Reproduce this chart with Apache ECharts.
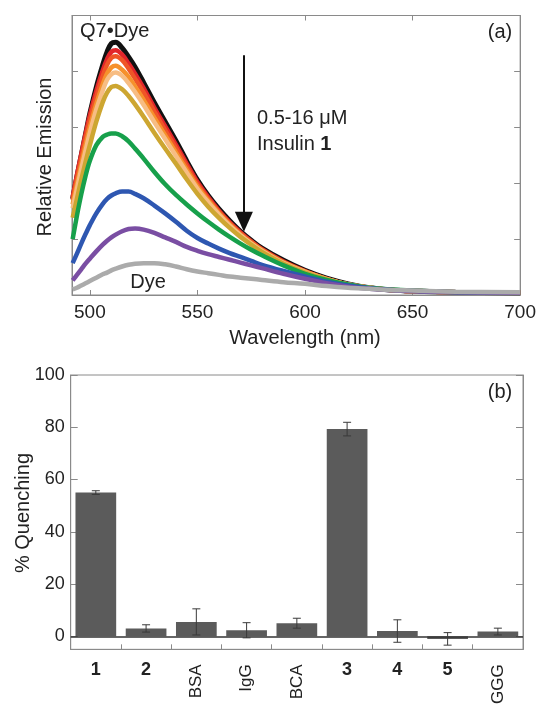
<!DOCTYPE html>
<html>
<head>
<meta charset="utf-8">
<script src="https://cdn.jsdelivr.net/npm/echarts@6.0.0/dist/echarts.min.js"></script>
<style>
html,body{margin:0;padding:0;background:#fff;}
#chart{width:539px;height:707px;}
</style>
</head>
<body>
<div id="chart"></div>
<script>
// ---------- Panel (a): emission spectra ----------
const wavelengths = [492,494,496,498,500,503,506,508,510,512,515,518,521,525,530,535,540,545,550,555,560,565,570,575,580,590,600,610,620,630,640,650,670,700];
const q7Dye      = [1.72,2.12,2.50,2.88,3.25,3.72,4.12,4.35,4.50,4.52,4.42,4.26,4.08,3.80,3.44,3.10,2.76,2.40,2.06,1.78,1.54,1.33,1.14,0.98,0.84,0.62,0.44,0.30,0.20,0.13,0.09,0.07,0.05,0.04];
const insulinA   = [1.75,2.15,2.52,2.88,3.22,3.65,4.02,4.22,4.35,4.38,4.30,4.14,3.96,3.70,3.35,3.02,2.69,2.35,2.02,1.75,1.51,1.30,1.12,0.96,0.82,0.60,0.43,0.29,0.19,0.13,0.09,0.07,0.05,0.04];
const insulinB   = [1.70,2.08,2.44,2.80,3.13,3.55,3.92,4.12,4.24,4.27,4.20,4.05,3.87,3.62,3.28,2.95,2.63,2.30,1.98,1.72,1.49,1.28,1.10,0.95,0.81,0.59,0.42,0.29,0.19,0.13,0.09,0.07,0.05,0.04];
const insulinC   = [1.62,1.98,2.33,2.68,3.00,3.42,3.77,3.96,4.07,4.10,4.03,3.90,3.73,3.49,3.17,2.86,2.55,2.24,1.94,1.69,1.46,1.26,1.08,0.93,0.80,0.58,0.42,0.29,0.19,0.13,0.09,0.07,0.05,0.04];
const insulinD   = [1.55,1.90,2.25,2.58,2.90,3.32,3.66,3.85,3.95,3.98,3.92,3.79,3.63,3.40,3.09,2.79,2.49,2.19,1.90,1.66,1.44,1.24,1.07,0.92,0.79,0.57,0.41,0.28,0.19,0.13,0.09,0.07,0.05,0.04];
const insulinE   = [1.38,1.72,2.06,2.38,2.68,3.10,3.45,3.62,3.72,3.74,3.68,3.56,3.41,3.19,2.90,2.62,2.35,2.07,1.81,1.58,1.38,1.20,1.04,0.90,0.77,0.56,0.40,0.28,0.18,0.12,0.09,0.07,0.05,0.04];
const insulinF   = [1.00,1.42,1.80,2.13,2.40,2.68,2.83,2.87,2.89,2.89,2.84,2.75,2.62,2.44,2.20,1.98,1.79,1.62,1.46,1.31,1.17,1.04,0.92,0.81,0.71,0.53,0.38,0.27,0.19,0.13,0.10,0.08,0.05,0.04];
const insulinG   = [0.57,0.74,0.92,1.09,1.25,1.46,1.63,1.72,1.78,1.82,1.85,1.85,1.81,1.73,1.60,1.46,1.31,1.15,1.02,0.92,0.83,0.75,0.68,0.61,0.54,0.43,0.33,0.24,0.17,0.12,0.09,0.07,0.05,0.04];
const insulinH   = [0.26,0.36,0.46,0.56,0.65,0.78,0.90,0.97,1.03,1.08,1.14,1.18,1.19,1.17,1.11,1.03,0.95,0.86,0.79,0.73,0.68,0.63,0.58,0.53,0.48,0.38,0.29,0.21,0.15,0.11,0.09,0.07,0.05,0.04];
const dyeOnly    = [0.10,0.13,0.17,0.21,0.25,0.31,0.37,0.40,0.44,0.47,0.51,0.54,0.56,0.57,0.57,0.55,0.51,0.46,0.42,0.39,0.36,0.33,0.31,0.29,0.27,0.23,0.20,0.16,0.13,0.11,0.09,0.08,0.06,0.05];
const spectraSeries = [q7Dye, insulinA, insulinB, insulinC, insulinD, insulinE, insulinF, insulinG, insulinH, dyeOnly];
const spectraColors = ['#111111','#e2262b','#ef5527','#f6912c','#f7bd83','#cda631','#17a04b','#2e57b1','#7a4ea3','#ababab'];
const wavelengthTicks = [500,550,600,650,700];
const arrowFrom = [571.6, 4.29];
const arrowTo = [571.6, 1.31];

// ---------- Panel (b): % quenching ----------
const categories = ['1','2','BSA','IgG','BCA','3','4','5','GGG'];
const quenching  = [55.0, 3.0, 5.5, 2.3, 5.0, 79.3, 2.0, -1.0, 1.8];
const quenchErr  = [0.7, 1.4, 5.0, 2.9, 1.9, 2.6, 4.3, 2.4, 1.3];
const quenchTicks = [0,20,40,60,80,100];

const FONT = '"Liberation Sans", Arial, sans-serif';
const TXT = '#222';
const FRAME = '#8a8a8a';

const chart = echarts.init(document.getElementById('chart'), null, {renderer:'canvas'});

const lineSeries = spectraSeries.map((vals, i) => ({
  type: 'line',
  xAxisIndex: 0, yAxisIndex: 0,
  data: wavelengths.map((w, j) => [w, vals[j]]),
  smooth: 0.35,
  showSymbol: false,
  symbol: 'none',
  silent: true,
  z: 2 + i,
  lineStyle: {color: spectraColors[i], width: i === 0 ? 5 : 4.5},
  animation: false
}));

// arrow annotation
lineSeries.push({
  type: 'line', xAxisIndex: 0, yAxisIndex: 0, data: [], silent: true, animation: false,
  markLine: {
    silent: true,
    symbol: ['none', 'triangle'],
    symbolSize: [18, 20],
    label: {show: false},
    lineStyle: {color: '#111', width: 2, type: 'solid'},
    data: [[{coord: arrowFrom}, {coord: arrowTo}]]
  }
});

const errorData = quenching.map((v, i) => [i, v - quenchErr[i], v + quenchErr[i]]);

const option = {
  animation: false,
  backgroundColor: '#fff',
  textStyle: {fontFamily: FONT},
  grid: [
    {left: 72, right: 16, top: 15.5, height: 279.5, show: true, borderColor: FRAME, borderWidth: 1, backgroundColor: 'transparent'},
    {left: 70.7, right: 16, top: 375, height: 280, show: true, borderColor: FRAME, borderWidth: 1, backgroundColor: 'transparent'}
  ],
  xAxis: [
    {
      gridIndex: 0, type: 'value', min: 491.7, max: 700, position: 'bottom',
      axisLine: {show: true, onZero: false, lineStyle: {color: FRAME}},
      axisTick: {show: true, inside: true, length: 5, customValues: wavelengthTicks, lineStyle: {color: FRAME}},
      axisLabel: {show: true, customValues: wavelengthTicks, fontSize: 19, color: TXT, margin: 8, fontFamily: FONT},
      splitLine: {show: false}
    },
    {
      gridIndex: 0, type: 'value', min: 491.7, max: 700, position: 'top',
      axisLine: {show: true, onZero: false, lineStyle: {color: FRAME}},
      axisTick: {show: true, inside: true, length: 5, customValues: wavelengthTicks, lineStyle: {color: FRAME}},
      axisLabel: {show: false},
      splitLine: {show: false}
    },
    {
      gridIndex: 1, type: 'category', data: categories, position: 'bottom',
      axisLine: {show: true, onZero: false, lineStyle: {color: FRAME}},
      axisTick: {show: true, inside: true, length: 5, lineStyle: {color: FRAME}},
      axisLabel: {
        interval: 0, fontSize: 18, fontWeight: 'bold', color: TXT, margin: 12, fontFamily: FONT,
        formatter: v => (/^\d+$/.test(v) ? v : '')
      },
      splitLine: {show: false}
    },
    {
      gridIndex: 1, type: 'category', data: categories, position: 'bottom',
      axisLine: {show: false}, axisTick: {show: false},
      axisLabel: {
        interval: 0, rotate: 90, fontSize: 17, color: TXT, margin: 15, fontFamily: FONT,
        formatter: v => (/^\d+$/.test(v) ? '' : v)
      },
      splitLine: {show: false}
    }
  ],
  yAxis: [
    {
      gridIndex: 0, type: 'value', min: 0, max: 5, interval: 1, position: 'left',
      axisLine: {show: true, onZero: false, lineStyle: {color: FRAME}},
      axisTick: {show: true, inside: true, length: 6, lineStyle: {color: FRAME}},
      axisLabel: {show: false}, splitLine: {show: false}
    },
    {
      gridIndex: 0, type: 'value', min: 0, max: 5, interval: 1, position: 'right',
      axisLine: {show: true, onZero: false, lineStyle: {color: FRAME}},
      axisTick: {show: true, inside: true, length: 6, lineStyle: {color: FRAME}},
      axisLabel: {show: false}, splitLine: {show: false}
    },
    {
      gridIndex: 1, type: 'value', min: -5, max: 100, position: 'left',
      axisLine: {show: true, onZero: false, lineStyle: {color: FRAME}},
      axisTick: {show: true, inside: true, length: 7, customValues: quenchTicks, lineStyle: {color: FRAME}},
      axisLabel: {show: true, customValues: quenchTicks, fontSize: 18, color: TXT, margin: 6, fontFamily: FONT},
      splitLine: {show: false}
    },
    {
      gridIndex: 1, type: 'value', min: -5, max: 100, position: 'right',
      axisLine: {show: true, onZero: false, lineStyle: {color: FRAME}},
      axisTick: {show: true, inside: true, length: 7, customValues: quenchTicks, lineStyle: {color: FRAME}},
      axisLabel: {show: false}, splitLine: {show: false}
    }
  ],
  series: lineSeries.concat([
    {
      type: 'bar', xAxisIndex: 2, yAxisIndex: 2, data: quenching, barWidth: '81%',
      itemStyle: {color: '#5b5b5b'}, silent: true, z: 2,
      markLine: {
        silent: true, symbol: 'none', label: {show: false},
        lineStyle: {color: '#333', width: 1.5, type: 'solid'},
        data: [{yAxis: 0}]
      }
    },
    {
      type: 'custom', xAxisIndex: 2, yAxisIndex: 2, data: errorData, silent: true, z: 5,
      renderItem: function (params, api) {
        const x = api.value(0);
        const lo = api.coord([x, api.value(1)]);
        const hi = api.coord([x, api.value(2)]);
        const w = 4;
        const st = {stroke: '#3a3a3a', lineWidth: 1};
        return {type: 'group', children: [
          {type: 'line', shape: {x1: hi[0], y1: hi[1], x2: lo[0], y2: lo[1]}, style: st},
          {type: 'line', shape: {x1: hi[0] - w, y1: hi[1], x2: hi[0] + w, y2: hi[1]}, style: st},
          {type: 'line', shape: {x1: lo[0] - w, y1: lo[1], x2: lo[0] + w, y2: lo[1]}, style: st}
        ]};
      }
    }
  ]),
  graphic: [
    {type: 'text', left: 80, top: 21, style: {text: 'Q7•Dye', font: '20px ' + FONT, fill: TXT}},
    {type: 'text', x: 500, y: 32, style: {text: '(a)', font: '20px ' + FONT, fill: TXT, align: 'center', verticalAlign: 'middle'}},
    {type: 'text', x: 257, y: 118, style: {text: '0.5-16 μM', font: '20px ' + FONT, fill: TXT, align: 'left', verticalAlign: 'middle'}},
    {type: 'text', x: 257, y: 144, style: {
      text: 'Insulin {b|1}', font: '20px ' + FONT, fill: TXT, align: 'left', verticalAlign: 'middle',
      rich: {b: {fontWeight: 'bold', fontSize: 20, fontFamily: FONT, fill: TXT}}
    }},
    {type: 'text', x: 148, y: 282, style: {text: 'Dye', font: '20px ' + FONT, fill: TXT, align: 'center', verticalAlign: 'middle'}},
    {type: 'text', x: 305, y: 338, style: {text: 'Wavelength (nm)', font: '20px ' + FONT, fill: TXT, align: 'center', verticalAlign: 'middle'}},
    {type: 'text', x: 45, y: 157, rotation: Math.PI / 2, style: {text: 'Relative Emission', font: '20px ' + FONT, fill: TXT, align: 'center', verticalAlign: 'middle'}},
    {type: 'text', x: 500, y: 392, style: {text: '(b)', font: '20px ' + FONT, fill: TXT, align: 'center', verticalAlign: 'middle'}},
    {type: 'text', x: 23, y: 513, rotation: Math.PI / 2, style: {text: '% Quenching', font: '20px ' + FONT, fill: TXT, align: 'center', verticalAlign: 'middle'}}
  ]
};
chart.setOption(option);
</script>
</body>
</html>
